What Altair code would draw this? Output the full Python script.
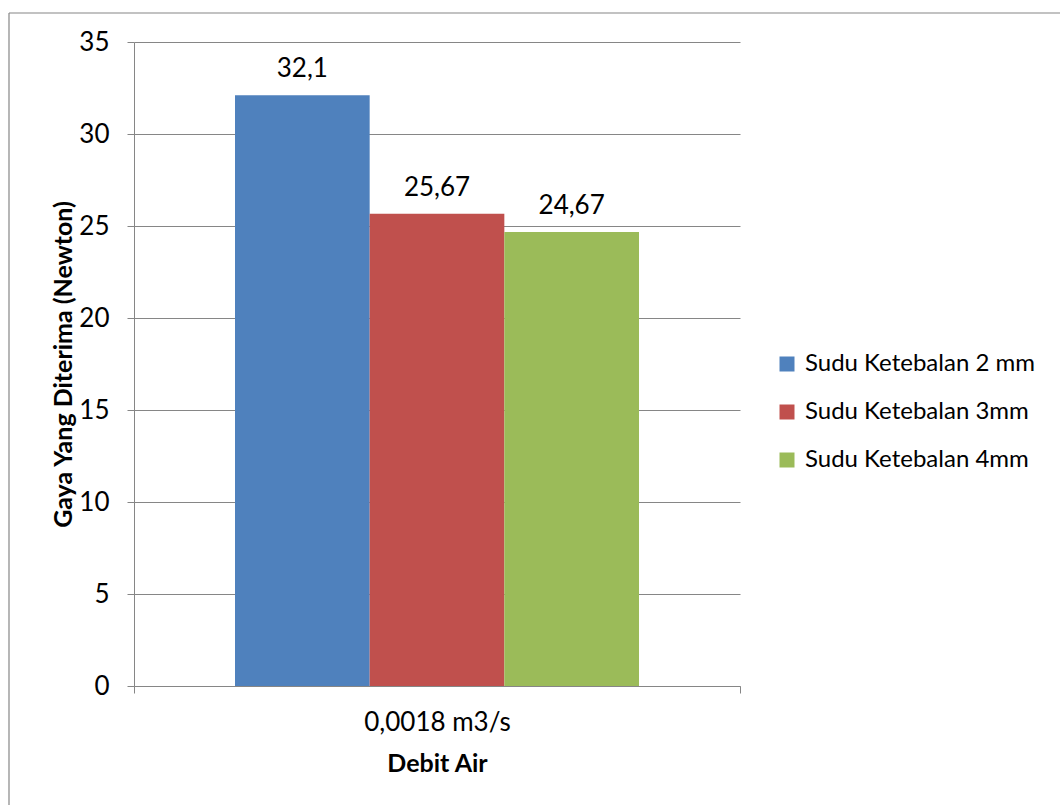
import altair as alt
import pandas as pd

# ---- data ----
categories = ["0,0018 m3/s"]
series = ["Sudu Ketebalan 2 mm", "Sudu Ketebalan 3mm", "Sudu Ketebalan 4mm"]
values = [32.1, 25.67, 24.67]
colors = ["#4F81BD", "#C0504D", "#9BBB59"]
y_ticks = [0, 5, 10, 15, 20, 25, 30, 35]

df = pd.DataFrame({
    "debit": categories * len(series),
    "seri": series,
    "gaya": values,
})

W, H = 606, 644
FONT = "Lato"
GREY = "#868686"
FS = 26

base = alt.Chart(df).transform_calculate(
    label="replace(toString(datum.gaya), '.', ',')"
).encode(
    x=alt.X(
        "debit:N",
        title="Debit Air",
        scale=alt.Scale(paddingInner=0, paddingOuter=0),
        axis=alt.Axis(
            labelAngle=0, tickBand="extent", tickSize=7, labelPadding=16,
            titlePadding=16, labelFontSize=FS, titleFontSize=FS - 1,
            titleFontWeight="bold", domainColor=GREY, tickColor=GREY,
            grid=False,
        ),
    ),
    xOffset=alt.XOffset(
        "seri:N", sort=series,
        scale=alt.Scale(paddingInner=0, paddingOuter=0.75),
    ),
)

bars = base.mark_bar().encode(
    y=alt.Y(
        "gaya:Q",
        title="Gaya Yang Diterima (Newton)",
        scale=alt.Scale(domain=[0, 35], nice=False),
        axis=alt.Axis(
            values=y_ticks, tickSize=7, labelPadding=18, labelFontSize=FS,
            titleFontSize=FS - 1, titleFontWeight="bold", titlePadding=2,
            domainColor=GREY, tickColor=GREY, grid=True, gridColor=GREY,
        ),
    ),
    color=alt.Color(
        "seri:N",
        scale=alt.Scale(domain=series, range=colors),
        legend=alt.Legend(
            title=None, orient="none", legendX=641, legendY=310,
            symbolType="square", symbolSize=225, symbolStrokeWidth=0,
            labelFontSize=24, labelOffset=6, rowPadding=24, padding=0,
            labelLimit=0,
        ),
    ),
)

texts = base.mark_text(
    baseline="alphabetic", dy=-18, fontSize=FS, font=FONT, color="black"
).encode(y="gaya:Q", text="label:N")

frame_df = pd.DataFrame({"k": [0]})
left_border = alt.Chart(frame_df).mark_rule(color=GREY, strokeWidth=1.2).encode(
    x=alt.value(-125), y=alt.value(-29), y2=alt.value(H + 300)
)
top_border = alt.Chart(frame_df).mark_rule(color=GREY, strokeWidth=1.2).encode(
    x=alt.value(-125), x2=alt.value(W + 400), y=alt.value(-29)
)

chart = alt.layer(left_border, top_border, bars, texts).properties(
    width=W, height=H,
    padding={"left": 134, "top": 42, "right": 320, "bottom": 119},
    autosize=alt.AutoSizeParams(type="none"),
).configure(
    font=FONT,
    background="white",
).configure_view(
    stroke=None
).configure_axis(
    labelColor="black", titleColor="black", labelFont=FONT, titleFont=FONT,
).configure_legend(
    labelColor="black", labelFont=FONT,
)

chart.save("out.html", embed_options={"renderer": "svg", "actions": False})
